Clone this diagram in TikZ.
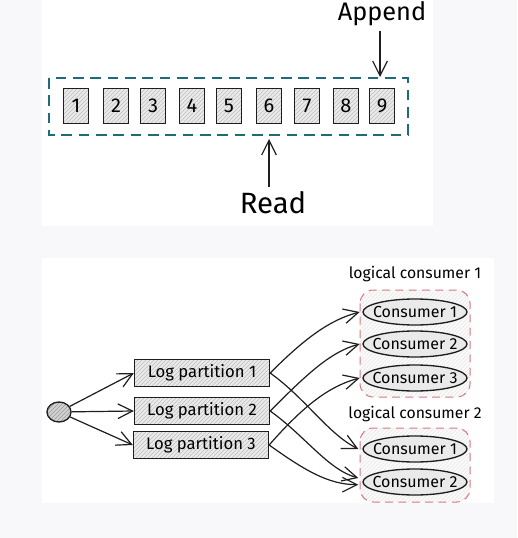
\documentclass[tikz,border=0pt]{standalone}
\usepackage{fontspec}
\setmainfont{Fira Sans}
\usetikzlibrary{arrows.meta,patterns,shapes.geometric}

\definecolor{pagebg}{RGB}{248,248,250}
\definecolor{tealdash}{RGB}{30,108,122}
\definecolor{reddash}{RGB}{214,120,128}
\definecolor{boxfill}{RGB}{234,234,234}
\definecolor{linecol}{RGB}{30,30,30}

\tikzset{every picture/.style={line width=0.75pt}}
\tikzset{
  hatched/.style={preaction={fill=boxfill}, pattern=north east lines, pattern color=gray!50},
  cell/.style={draw=linecol, line width=1pt, hatched, minimum width=18.75pt, minimum height=26.25pt, inner sep=0pt, font=\fontsize{15}{15}\selectfont},
  partition/.style={draw=linecol, line width=1pt, hatched, minimum width=101.25pt, minimum height=20.25pt, inner sep=0pt, font=\fontsize{12.5}{12.5}\selectfont},
  consumer/.style={draw=linecol, line width=1pt, ellipse, fill=boxfill, minimum width=78pt, minimum height=19.5pt, inner xsep=-7pt, inner ysep=0pt, font=\fontsize{12}{12}\selectfont},
  grouplabel/.style={font=\fontsize{11.8}{11.8}\selectfont, inner sep=0.75pt},
  biglabel/.style={font=\fontsize{19}{19}\selectfont, inner sep=0.75pt},
  sketcharrow/.style={-{Straight Barb[length=11pt,width=11pt]}, draw=linecol, line width=0.9pt},
}

\begin{document}
\begin{tikzpicture}[x=0.75pt,y=0.75pt,yscale=-1,xscale=1]
%set diagram size 517 x 538
\useasboundingbox (0,0) rectangle (517,538);
\fill[pagebg] (0,0) rectangle (517,538);

%Shape: Panels
\fill[white] (42,0) rectangle (433,226);
\fill[white] (42,258) rectangle (494,503);

%%%%% top panel: the log

%Shape: Rectangle dashed
\draw[tealdash, line width=1.5pt, dash pattern=on 8pt off 5pt] (49,78) rectangle (408,135);
\coordinate (logtop) at (380,77);
\coordinate (logbottom) at (269,139);

%Shape: cells
\foreach \i/\xx in {1/76,2/116,3/153,4/192,5/229,6/269,7/307,8/346,9/382}
  \node[cell] (cell\i) at (\xx,106) {\i};

% Text Node
\node[biglabel] (append) at (382,14) {Append};
% Text Node
\node[biglabel, font=\fontsize{22}{22}\selectfont] (read) at (273,203) {Read};

\draw[sketcharrow] (append.south) ++(-2,3) coordinate (appendstart) -- (logtop);
\draw[sketcharrow] (read.north) ++(-4,-3) coordinate (readstart) -- (logbottom);

%%%%% bottom panel: partitions and consumers

%Shape: Groups
\draw[reddash, dash pattern=on 6pt off 4pt, rounded corners=10pt, preaction={fill=gray!4}, pattern=north east lines, pattern color=gray!18] (360,290) rectangle (470,397);
\draw[reddash, dash pattern=on 6pt off 4pt, rounded corners=10pt, preaction={fill=gray!4}, pattern=north east lines, pattern color=gray!18] (360,428) rectangle (470,502);

% Text Node
\node[grouplabel] (grp1) at (415,274) {logical consumer 1};
\node[grouplabel] (grp2) at (415,414) {logical consumer 2};

%Shape: Source
\node[draw=linecol, line width=1pt, ellipse, preaction={fill=gray!35}, pattern=north east lines, pattern color=gray!80, minimum width=18pt, minimum height=15pt, inner sep=0pt] (source) at (59,412) {};

%Shape: Partitions
\node[partition] (part1) at (202,373) {Log partition 1};
\node[partition] (part2) at (202,411) {Log partition 2};
\node[partition] (part3) at (201,445) {Log partition 3};

%Shape: Consumers
\node[consumer] (cons11) at (415,312) {Consumer 1};
\node[consumer] (cons12) at (415,344) {Consumer 2};
\node[consumer] (cons13) at (415,378) {Consumer 3};
\node[consumer] (cons21) at (415,449) {Consumer 1};
\node[consumer] (cons22) at (415,482) {Consumer 2};

%Straight Lines
\draw[sketcharrow] (source) -- (part1.west);
\draw[sketcharrow] (source) -- (part2.west);
\draw[sketcharrow] (source) -- (part3.west);

%Curves
\draw[sketcharrow] (part1.east) .. controls +(35,-35) and +(-30,8) .. ([xshift=-2]cons11.west);
\draw[sketcharrow] (part2.east) .. controls +(35,-35) and +(-30,8) .. ([xshift=-2]cons12.west);
\draw[sketcharrow] (part3.east) .. controls +(35,-40) and +(-30,8) .. ([xshift=-2]cons13.west);
\draw[sketcharrow] (part1.east) .. controls +(35,25) and +(-30,-15) .. ([xshift=-3]cons21.west);
\draw[sketcharrow] (part2.east) .. controls +(35,25) and +(-30,-8) .. ([xshift=-3,yshift=-3]cons22.west);
\draw[sketcharrow] (part3.east) .. controls +(35,25) and +(-30,0) .. ([xshift=-3,yshift=2]cons22.west);

\end{tikzpicture}
\end{document}
